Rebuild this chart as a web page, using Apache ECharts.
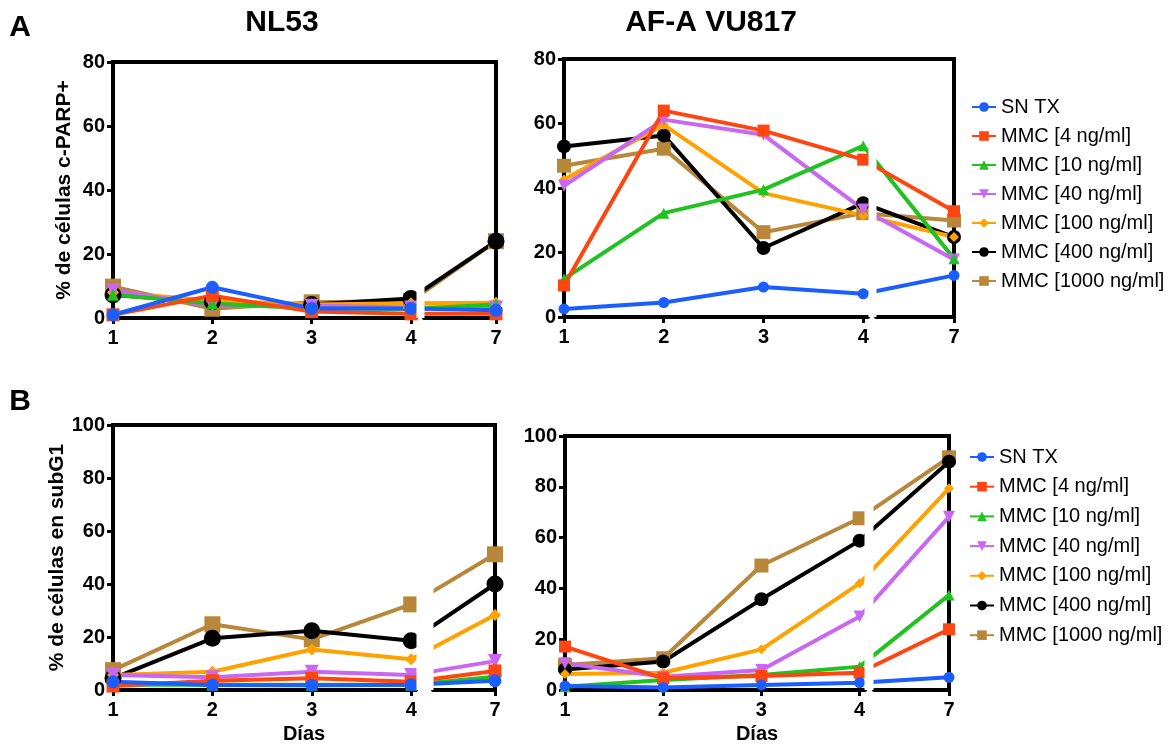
<!DOCTYPE html>
<html>
<head>
<meta charset="utf-8">
<script src="https://cdn.jsdelivr.net/npm/echarts@6/dist/echarts.min.js"></script>
<style>
  html, body { margin: 0; padding: 0; background: #fff; }
  #chart { width: 1168px; height: 745px; }
</style>
</head>
<body>
<div id="chart"></div>
<script>
// dias de medida (eje x cortado entre 4 y 7)
var days = [1, 2, 3, 4, 7];
var seriesNames = ['SN TX', 'MMC [4 ng/ml]', 'MMC [10 ng/ml]', 'MMC [40 ng/ml]',
  'MMC [100 ng/ml]', 'MMC [400 ng/ml]', 'MMC [1000 ng/ml]'];

// A - % c-PARP+ en NL53 (una fila por serie, mismo orden que seriesNames)
var parpNL53 = [
  [1.0, 9.6, 3.0, 3.0, 2.4],
  [1.0, 7.0, 2.0, 1.3, 1.3],
  [7.3, 4.5, 3.0, 2.8, 4.2],
  [8.7, 3.8, 3.8, 3.3, 3.3],
  [8.0, 5.5, 4.2, 4.6, 4.8],
  [7.2, 5.0, 4.2, 6.1, 24.0],
  [9.8, 2.9, 4.9, 5.3, 24.0]
];
// A - % c-PARP+ en AF-A VU817
var parpAF = [
  [2.5, 4.5, 9.3, 7.2, 12.9],
  [9.8, 64.0, 57.8, 48.8, 32.8],
  [11.8, 32.2, 39.5, 53.1, 18.1],
  [40.7, 61.2, 56.5, 33.3, 17.8],
  [42.6, 59.6, 38.4, 31.5, 24.8],
  [52.9, 56.3, 21.4, 35.3, 24.8],
  [46.9, 52.2, 26.3, 32.2, 29.9]
];
// B - % subG1 en NL53
var subNL53 = [
  [3.1, 1.9, 1.8, 2.0, 3.5],
  [1.5, 3.5, 4.4, 3.1, 7.2],
  [2.0, 2.0, 2.0, 2.0, 5.0],
  [5.7, 4.8, 6.9, 5.7, 10.9],
  [5.7, 6.9, 15.3, 11.6, 28.3],
  [4.4, 19.5, 22.4, 18.6, 40.0],
  [7.5, 24.8, 19.1, 32.3, 51.2]
];
// B - % subG1 en AF-A VU817
var subAF = [
  [1.6, 1.0, 2.0, 2.9, 5.0],
  [17.1, 4.6, 5.5, 6.8, 23.9],
  [1.3, 3.9, 5.9, 9.2, 37.4],
  [10.5, 5.2, 7.9, 28.9, 68.2],
  [6.3, 6.8, 16.0, 42.0, 79.4],
  [8.1, 11.2, 35.7, 58.8, 89.9],
  [9.8, 12.5, 49.0, 67.6, 91.6]
];

var colors = ['#1a5eff', '#ff4510', '#1fc21f', '#c966f2', '#ffa200', '#000000', '#b8873a'];
var symbols = ['circle', 'rect', 'triangle', 'triangle', 'diamond', 'circle', 'rect'];
var rotations = [0, 0, 0, 180, 0, 0, 0];
var sizesBig = [13, 13, 12, 14, 12, 17, 16];
var sizesSmall = [11, 12, 11, 12, 10, 14, 14];

var font = "'Liberation Sans', Arial, Helvetica, sans-serif";

var panels = [
  { data: parpNL53, grid: { left: 113, top: 62, width: 383, height: 256 }, yMax: 80,
    breakEnd: 6.275, gap: '2.1%', yName: '% de células c-PARP+', nameGap: 38, sizes: sizesBig },
  { data: parpAF, grid: { left: 564, top: 59, width: 390, height: 258 }, yMax: 80,
    breakEnd: 6.22, gap: '2.05%', sizes: sizesSmall },
  { data: subNL53, grid: { left: 113, top: 425, width: 382, height: 265 }, yMax: 100,
    breakEnd: 6.376, gap: '4.4%', yName: '% de células en subG1', nameGap: 44, xName: 'Días', sizes: sizesBig },
  { data: subAF, grid: { left: 565, top: 436, width: 384, height: 254 }, yMax: 100,
    breakEnd: 6.23, gap: '2.3%', xName: 'Días', sizes: sizesSmall }
];

var grids = [], xAxes = [], yAxes = [], series = [];

panels.forEach(function (p, pi) {
  grids.push(p.grid);
  // eje x inferior con corte
  xAxes.push({
    type: 'value', gridIndex: pi, min: 1, max: 7,
    breaks: [{ start: 4.05, end: p.breakEnd, gap: p.gap }],
    breakArea: {
      show: true,
      itemStyle: { color: '#fff', borderColor: '#fff', borderWidth: 0, opacity: 1 },
      zigzagAmplitude: 0,
      expandOnClick: false
    },
    axisLine: { show: true, onZero: false, lineStyle: { color: '#000', width: 4 } },
    axisTick: { show: true, customValues: days, length: 6, lineStyle: { color: '#000', width: 3 } },
    axisLabel: { customValues: days, color: '#000', fontSize: 20, fontWeight: 'bold', fontFamily: font, margin: 10 },
    splitLine: { show: false },
    name: p.xName || '', nameLocation: 'middle', nameGap: 34,
    nameTextStyle: { color: '#000', fontSize: 20, fontWeight: 'bold', fontFamily: font }
  });
  // marco superior (por encima de la banda blanca del corte)
  xAxes.push({
    type: 'value', gridIndex: pi, position: 'top', min: 1, max: 7, z: 300,
    axisLine: { show: true, onZero: false, lineStyle: { color: '#000', width: 4, cap: 'square' } },
    axisTick: { show: false }, axisLabel: { show: false }, splitLine: { show: false }
  });
  yAxes.push({
    type: 'value', gridIndex: pi, min: 0, max: p.yMax, interval: 20,
    axisLine: { show: true, onZero: false, lineStyle: { color: '#000', width: 4, cap: 'square' } },
    axisTick: { show: true, length: 6, lineStyle: { color: '#000', width: 3 } },
    axisLabel: { color: '#000', fontSize: 20, fontWeight: 'bold', fontFamily: font, margin: 8 },
    splitLine: { show: false },
    name: p.yName || '', nameLocation: 'middle', nameGap: p.nameGap || 40,
    nameTextStyle: { color: '#000', fontSize: 21, fontWeight: 'bold', fontFamily: font }
  });
  // marco derecho
  yAxes.push({
    type: 'value', gridIndex: pi, position: 'right', min: 0, max: p.yMax,
    axisLine: { show: true, onZero: false, lineStyle: { color: '#000', width: 4, cap: 'square' } },
    axisTick: { show: false }, axisLabel: { show: false }, splitLine: { show: false }
  });
  // de la ultima serie a la primera, para que SN TX quede encima
  for (var i = seriesNames.length - 1; i >= 0; i--) {
    var vals = p.data[i];
    series.push({
      type: 'line', name: seriesNames[i],
      xAxisIndex: pi * 2, yAxisIndex: pi * 2,
      data: days.map(function (d, j) { return [d, vals[j]]; }),
      symbol: symbols[i], symbolSize: p.sizes[i], symbolRotate: rotations[i],
      lineStyle: { color: colors[i], width: 4 },
      itemStyle: { color: colors[i] },
      emphasis: { disabled: true }
    });
  }
});

var legendBase = {
  orient: 'vertical', data: seriesNames, selectedMode: false,
  itemWidth: 24, itemHeight: 12,
  textStyle: { color: '#000', fontSize: 20, fontFamily: font }
};

var chart = echarts.init(document.getElementById('chart'));
chart.setOption({
  animation: false,
  backgroundColor: '#fff',
  grid: grids,
  xAxis: xAxes,
  yAxis: yAxes,
  series: series,
  legend: [
    Object.assign({}, legendBase, { left: 966, top: 92, itemGap: 9 }),
    Object.assign({}, legendBase, { left: 964, top: 442, itemGap: 9.7 })
  ],
  graphic: [
    { type: 'text', x: 20, y: 28, style: { text: 'A', font: 'bold 30px ' + font, fill: '#000', align: 'center', verticalAlign: 'middle' } },
    { type: 'text', x: 20, y: 402, style: { text: 'B', font: 'bold 30px ' + font, fill: '#000', align: 'center', verticalAlign: 'middle' } },
    { type: 'text', x: 282, y: 23, style: { text: 'NL53', font: 'bold 30px ' + font, fill: '#000', align: 'center', verticalAlign: 'middle' } },
    { type: 'text', x: 711, y: 23, style: { text: 'AF-A VU817', font: 'bold 30px ' + font, fill: '#000', align: 'center', verticalAlign: 'middle' } }
  ]
});
</script>
</body>
</html>
